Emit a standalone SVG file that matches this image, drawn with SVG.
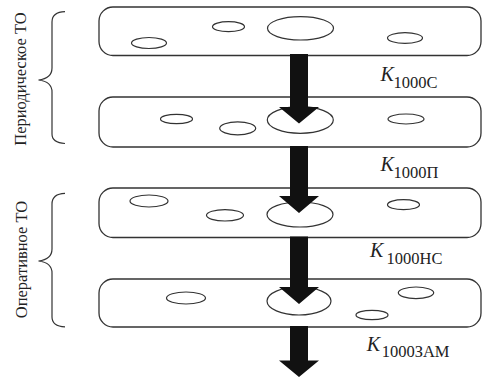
<svg xmlns="http://www.w3.org/2000/svg" width="482" height="377" viewBox="0 0 482 377">
<style>
.box{fill:#fff;stroke:#333;stroke-width:1.3}
.el{fill:#fff;stroke:#333;stroke-width:1.2}
.br{fill:none;stroke:#333;stroke-width:1.2}
.arr{fill:#111}
.k{font-family:"Liberation Serif","Times New Roman",serif;font-style:italic;font-size:20px;fill:#222}
.sub{font-family:"Liberation Serif","Times New Roman",serif;font-size:16.5px;fill:#222}
.side{font-family:"Liberation Serif","Times New Roman",serif;font-size:16.5px;fill:#222}
</style>
<g id="brace-periodic">
<path class="br" d="M65,11.7 C56,12 52,15 52,22 L52,68 C52,75 47,79 38.5,80 C47,81 52,85 52,92 L52,134 C52,140 56,143 65,143.5"/>
<text class="side" transform="translate(25.5,79) rotate(-90)" text-anchor="middle">Периодическое ТО</text>
</g>
<g id="brace-operative">
<path class="br" d="M65,193.3 C56,193.6 52,197 52,204 L52,249 C52,256 47,260 38.5,261 C47,262 52,266 52,273 L52,317 C52,323 56,326.5 65,326.8"/>
<text class="side" transform="translate(26.5,259.5) rotate(-90)" text-anchor="middle">Оперативное ТО</text>
</g>
<g id="box1">
<rect class="box" x="99" y="7" width="382" height="48.5" rx="14"/>
<ellipse class="el" cx="149" cy="43" rx="17.5" ry="5.5"/>
<ellipse class="el" cx="228.5" cy="26.7" rx="16" ry="5"/>
<ellipse class="el" cx="300.5" cy="28.3" rx="33" ry="11.7"/>
<ellipse class="el" cx="405" cy="38" rx="17.5" ry="5.3"/>
</g>
<g id="box2">
<rect class="box" x="99" y="97" width="382" height="50" rx="14"/>
<ellipse class="el" cx="176.5" cy="119" rx="16" ry="4.7"/>
<ellipse class="el" cx="237.7" cy="128.3" rx="18" ry="6.5"/>
<ellipse class="el" cx="300.3" cy="120" rx="33" ry="13.3"/>
<ellipse class="el" cx="406" cy="119" rx="18" ry="5"/>
</g>
<g id="box3">
<rect class="box" x="99" y="188" width="382" height="49.5" rx="14"/>
<ellipse class="el" cx="149" cy="201" rx="19" ry="6"/>
<ellipse class="el" cx="225" cy="215.3" rx="18.5" ry="5.7"/>
<ellipse class="el" cx="300" cy="214.5" rx="33" ry="12.5"/>
<ellipse class="el" cx="403.5" cy="204.7" rx="16" ry="5"/>
</g>
<g id="box4">
<rect class="box" x="99" y="279" width="382" height="48" rx="14"/>
<ellipse class="el" cx="186" cy="298" rx="19.5" ry="6"/>
<ellipse class="el" cx="299" cy="301" rx="32" ry="14"/>
<ellipse class="el" cx="416" cy="292.8" rx="17.7" ry="5.8"/>
<ellipse class="el" cx="372" cy="315" rx="16" ry="4.7"/>
</g>
<g id="connectors">
<polygon class="arr" points="290,54 308,54 308,107 319,107 299,123.5 279,107 290,107"/>
<polygon class="arr" points="290,146 308,146 308,196 319,196 299,213 279,196 290,196"/>
<polygon class="arr" points="290,236.5 308,236.5 308,287 319,287 299,304 279,287 290,287"/>
<polygon class="arr" points="290,326 308,326 308,360.5 319,360.5 299,377 279,360.5 290,360.5"/>
</g>
<g id="labels">
<text x="380.5" y="80.7"><tspan class="k">K</tspan></text>
<text class="sub" x="393.5" y="88">1000С</text>
<text x="380.5" y="170.5"><tspan class="k">K</tspan></text>
<text class="sub" x="393.5" y="178">1000П</text>
<text x="370" y="256.5"><tspan class="k">K</tspan></text>
<text class="sub" x="386.5" y="263.5">1000НС</text>
<text x="366.7" y="350.7"><tspan class="k">K</tspan></text>
<text class="sub" x="381.7" y="356.5">1000ЗАМ</text>
</g>
</svg>
